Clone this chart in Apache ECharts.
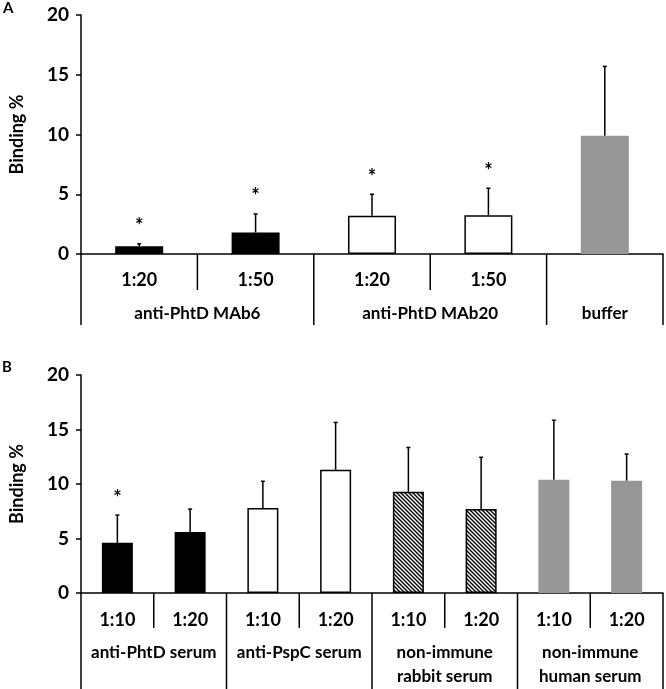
<!DOCTYPE html>
<html><head><meta charset="utf-8">
<script src="https://cdn.jsdelivr.net/npm/echarts@6/dist/echarts.min.js"></script>
<style>html,body{margin:0;padding:0;background:#fff}#c{width:666px;height:689px}</style>
</head><body><div id="c"></div>
<script>
// ---- data ----
const yMin = 0, yMax = 20, yStep = 5;

const subLabelsA = ['1:20', '1:50', '1:20', '1:50', ''];
const groupNamesA = ['anti-PhtD MAb6', 'anti-PhtD MAb20', 'buffer'];
const groupSpansA = [2, 2, 1];
const valuesA = [0.65, 1.8, 3.2, 3.25, 9.9];
const errorsA = [0.2, 1.55, 1.8, 2.25, 5.8];
const starsA = [1, 1, 1, 1, 0];

const subLabelsB = ['1:10', '1:20', '1:10', '1:20', '1:10', '1:20', '1:10', '1:20'];
const groupNamesB = ['anti-PhtD serum', 'anti-PspC serum', 'non-immune\nrabbit serum', 'non-immune\nhuman serum'];
const groupSpansB = [2, 2, 2, 2];
const valuesB = [4.6, 5.6, 7.8, 11.3, 9.3, 7.7, 10.4, 10.3];
const errorsB = [2.55, 2.1, 2.45, 4.35, 4.05, 4.75, 5.45, 2.45];
const starsB = [1, 0, 0, 0, 0, 0, 0, 0];

// ---- styles ----
const groupFillA = ['black', 'white', 'grey'];
const groupFillB = ['black', 'white', 'hatch', 'grey'];
const FONT = 'Lato';

function hatchCanvas() {
  const c = document.createElement('canvas');
  c.width = 4; c.height = 4;
  const g = c.getContext('2d');
  g.fillStyle = '#fff'; g.fillRect(0, 0, 4, 4);
  g.strokeStyle = '#000'; g.lineWidth = 1.4;
  g.beginPath();
  g.moveTo(-1, -1); g.lineTo(5, 5);
  g.moveTo(-1, 3); g.lineTo(1, 5);
  g.moveTo(3, -1); g.lineTo(5, 1);
  g.stroke();
  return c;
}
const hatch = hatchCanvas();

function fillStyle(kind) {
  if (kind === 'black') return { color: '#000' };
  if (kind === 'white') return { color: '#fff', borderColor: '#000', borderWidth: 1.5 };
  if (kind === 'grey') return { color: '#979797' };
  return { color: { image: hatch, repeat: 'repeat' }, borderColor: '#000', borderWidth: 1.5 };
}

const chart = echarts.init(document.getElementById('c'), null, { renderer: 'canvas' });

const grids = [], xAxes = [], yAxes = [], series = [];

function panel(gi, grid, sub, names, spans, values, errors, stars, fills, cfg) {
  grids.push(grid);
  const barFill = [];
  spans.forEach((s, k) => { for (let j = 0; j < s; j++) barFill.push(fills[k]); });
  xAxes.push({
    type: 'category', gridIndex: gi, data: sub,
    axisLine: { lineStyle: { color: '#000', width: 1.5 } },
    axisTick: { show: false },
    axisLabel: { interval: 0, color: '#000', fontFamily: FONT, fontWeight: 'bold', fontSize: 18, margin: cfg.subMargin }
  });
  yAxes.push({
    type: 'value', gridIndex: gi, min: yMin, max: yMax, interval: yStep,
    name: 'Binding %', nameLocation: 'middle', nameGap: 55, nameRotate: 90,
    nameTextStyle: { color: '#000', fontFamily: FONT, fontWeight: 'bold', fontSize: 18 },
    axisLine: { show: true, lineStyle: { color: '#000', width: 1.5 } },
    axisTick: { show: true, length: 5, lineStyle: { color: '#000', width: 1.5 } },
    axisLabel: { color: '#000', fontFamily: FONT, fontWeight: 'bold', fontSize: 19, margin: 12 },
    splitLine: { show: false }
  });
  series.push({
    type: 'bar', xAxisIndex: gi, yAxisIndex: gi, barWidth: cfg.barWidth, silent: true,
    data: values.map((v, i) => ({ value: v, itemStyle: fillStyle(barFill[i]) }))
  });
  series.push({
    type: 'custom', xAxisIndex: gi, yAxisIndex: gi, silent: true, z: 5,
    data: values.map((v, i) => [i, v, errors[i], stars[i]]),
    encode: { x: 0, y: 1 },
    renderItem: function (params, api) {
      const i = api.value(0), v = api.value(1), e = api.value(2), s = api.value(3);
      const p0 = api.coord([i, v]), p1 = api.coord([i, v + e]);
      const ch = [
        { type: 'line', shape: { x1: p0[0], y1: p0[1], x2: p1[0], y2: p1[1] }, style: { stroke: '#000', lineWidth: 1.5 } },
        { type: 'line', shape: { x1: p1[0] - 2, y1: p1[1], x2: p1[0] + 2, y2: p1[1] }, style: { stroke: '#000', lineWidth: 1.5 } }
      ];
      if (s) ch.push({ type: 'text', x: p1[0], y: p1[1] - 17, style: { text: '*', font: 'bold 20px ' + FONT, align: 'center', verticalAlign: 'middle', fill: '#000' } });
      return { type: 'group', children: ch };
    }
  });
  const n = sub.length;
  const bounds = [];
  let acc = 0;
  bounds.push([0, 1]);
  spans.forEach(s => {
    for (let j = 1; j < s; j++) bounds.push([acc + j, 0]);
    acc += s;
    bounds.push([acc, 1]);
  });
  series.push({
    type: 'custom', xAxisIndex: gi, yAxisIndex: gi, silent: true, clip: false,
    data: bounds,
    renderItem: function (params, api) {
      const idx = api.value(0), long = api.value(1);
      const bw = api.size([1, 0])[0];
      const x = idx < n ? api.coord([idx, 0])[0] - bw / 2 : api.coord([n - 1, 0])[0] + bw / 2;
      const y0 = api.coord([0, 0])[1];
      return { type: 'line', shape: { x1: x, y1: y0, x2: x, y2: y0 + (long ? cfg.longLen : cfg.shortLen) }, style: { stroke: '#000', lineWidth: 1.5 } };
    }
  });
  const starts = []; acc = 0;
  spans.forEach(s => { starts.push([acc, s]); acc += s; });
  series.push({
    type: 'custom', xAxisIndex: gi, yAxisIndex: gi, silent: true, clip: false,
    data: starts,
    renderItem: function (params, api) {
      const st = api.value(0), sp = api.value(1);
      const bw = api.size([1, 0])[0];
      const x = api.coord([st, 0])[0] - bw / 2 + sp * bw / 2;
      const y0 = api.coord([0, 0])[1];
      return { type: 'text', x: x, y: y0 + cfg.groupOffset - 12, style: { text: names[params.dataIndex], font: 'bold 17px ' + FONT, align: 'center', verticalAlign: 'top', lineHeight: 24, fill: '#000' } };
    }
  });
}

panel(0, { left: 68, right: 3, top: 15, height: 239 }, subLabelsA, groupNamesA, groupSpansA, valuesA, errorsA, starsA, groupFillA,
  { barWidth: 48, subMargin: 17, longLen: 71, shortLen: 36, groupOffset: 60 });
panel(1, { left: 68, right: 3, top: 375, height: 218 }, subLabelsB, groupNamesB, groupSpansB, valuesB, errorsB, starsB, groupFillB,
  { barWidth: 31, subMargin: 18, longLen: 96, shortLen: 35, groupOffset: 60 });

chart.setOption({
  animation: false,
  backgroundColor: '#fff',
  grid: grids,
  xAxis: xAxes,
  yAxis: yAxes,
  series: series,
  graphic: [
    { type: 'text', left: 3, top: 1, style: { text: 'A', font: 'bold 15px ' + FONT, fill: '#000' } },
    { type: 'text', left: 2, top: 360, style: { text: 'B', font: 'bold 15px ' + FONT, fill: '#000' } }
  ]
});
</script>
</body></html>
